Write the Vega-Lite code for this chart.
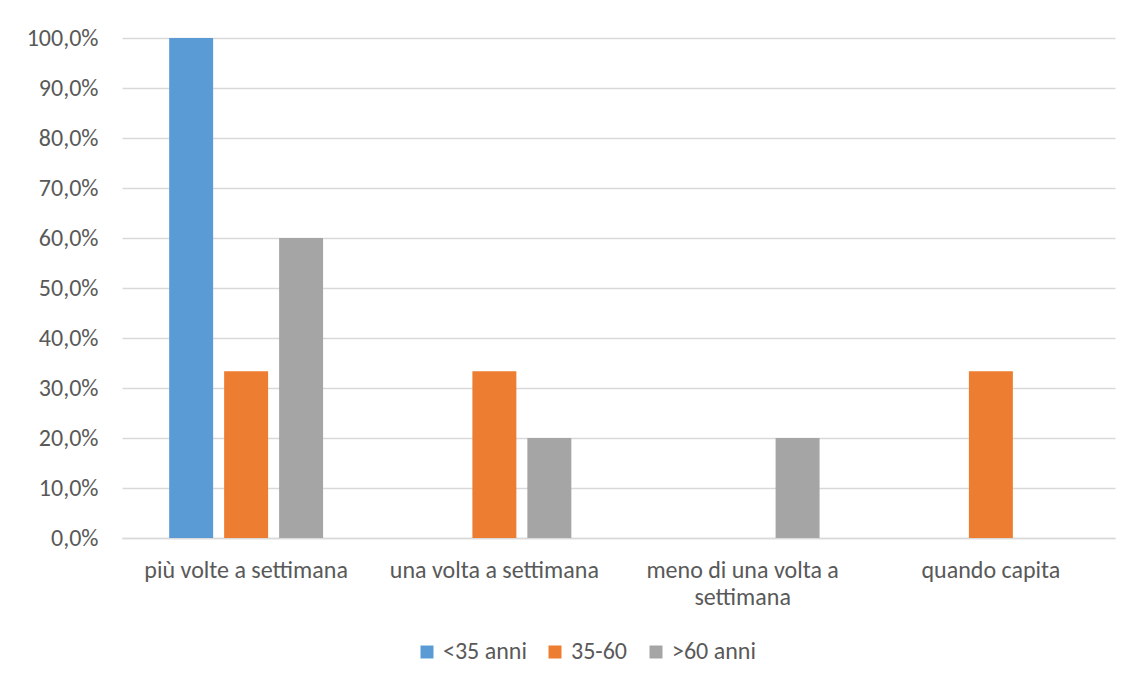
{
  "$schema": "https://vega.github.io/schema/vega-lite/v6.json",
  "width": 993,
  "height": 500,
  "padding": {"left": 22, "top": 26, "right": 22, "bottom": 10},
  "background": "white",
  "config": {
    "locale": {
      "number": {"decimal": ",", "thousands": ".", "grouping": [3], "currency": ["€", ""]}
    },
    "font": "Carlito, DejaVu Sans Condensed, Open Sans, sans-serif",
    "view": {"stroke": null},
    "axis": {
      "labelFont": "Carlito, DejaVu Sans Condensed, Open Sans, sans-serif",
      "labelColor": "#595959",
      "labelFontSize": 24
    },
    "legend": {
      "labelFont": "Carlito, DejaVu Sans Condensed, Open Sans, sans-serif",
      "labelColor": "#595959",
      "labelFontSize": 24
    }
  },
  "data": {
    "values": [
      {"frequenza": "più volte a settimana", "eta": "<35 anni", "quota": 1.0},
      {"frequenza": "più volte a settimana", "eta": "35-60", "quota": 0.3333},
      {"frequenza": "più volte a settimana", "eta": ">60 anni", "quota": 0.6},
      {"frequenza": "una volta a settimana", "eta": "<35 anni", "quota": 0},
      {"frequenza": "una volta a settimana", "eta": "35-60", "quota": 0.3333},
      {"frequenza": "una volta a settimana", "eta": ">60 anni", "quota": 0.2},
      {"frequenza": "meno di una volta a settimana", "eta": "<35 anni", "quota": 0},
      {"frequenza": "meno di una volta a settimana", "eta": "35-60", "quota": 0},
      {"frequenza": "meno di una volta a settimana", "eta": ">60 anni", "quota": 0.2},
      {"frequenza": "quando capita", "eta": "<35 anni", "quota": 0},
      {"frequenza": "quando capita", "eta": "35-60", "quota": 0.3333},
      {"frequenza": "quando capita", "eta": ">60 anni", "quota": 0}
    ]
  },
  "mark": {"type": "bar"},
  "encoding": {
    "x": {
      "field": "frequenza",
      "type": "nominal",
      "sort": ["più volte a settimana", "una volta a settimana", "meno di una volta a settimana", "quando capita"],
      "scale": {"paddingInner": 0.38, "paddingOuter": 0.19},
      "axis": {
        "title": null,
        "labelAngle": 0,
        "ticks": false,
        "domainColor": "#d9d9d9",
        "domainWidth": 1.5,
        "labelPadding": 20,
        "labelLineHeight": 27,
        "labelLimit": 300,
        "labelExpr": "datum.label == 'meno di una volta a settimana' ? ['meno di una volta a', 'settimana'] : datum.label"
      }
    },
    "xOffset": {
      "field": "eta",
      "type": "nominal",
      "sort": ["<35 anni", "35-60", ">60 anni"],
      "scale": {"paddingInner": 0.2, "paddingOuter": 0}
    },
    "y": {
      "field": "quota",
      "type": "quantitative",
      "scale": {"domain": [0, 1], "nice": false},
      "axis": {
        "title": null,
        "format": ".1%",
        "values": [0, 0.1, 0.2, 0.3, 0.4, 0.5, 0.6, 0.7, 0.8, 0.9, 1.0],
        "labelOverlap": false,
        "ticks": false,
        "domain": false,
        "gridColor": "#d9d9d9",
        "gridWidth": 1.5,
        "labelPadding": 24,
        "minExtent": 100,
        "maxExtent": 100
      }
    },
    "color": {
      "field": "eta",
      "type": "nominal",
      "sort": ["<35 anni", "35-60", ">60 anni"],
      "scale": {"domain": ["<35 anni", "35-60", ">60 anni"], "range": ["#5B9BD5", "#ED7D31", "#A5A5A5"]},
      "legend": {
        "title": null,
        "orient": "none",
        "direction": "horizontal",
        "legendX": 293,
        "legendY": 602,
        "symbolType": "square",
        "symbolSize": 169,
        "symbolStrokeWidth": 0,
        "labelOffset": 4,
        "columnPadding": 16
      }
    }
  }
}
